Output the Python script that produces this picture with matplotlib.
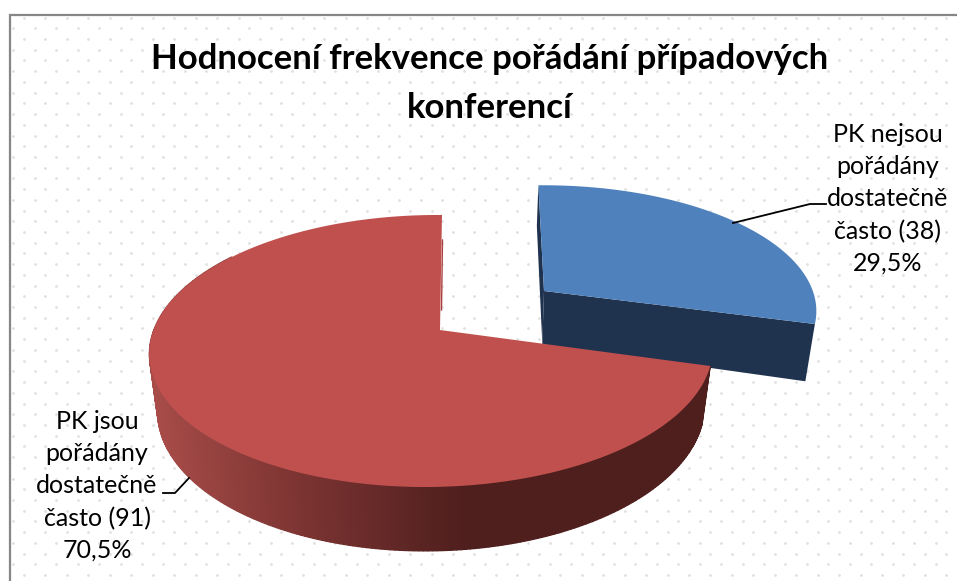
import matplotlib
matplotlib.use('Agg')
import matplotlib.pyplot as plt
from matplotlib.colors import LinearSegmentedColormap

import numpy as np

title_lines = ["Hodnocení frekvence pořádání případových", "konferencí"]
categories = ["PK nejsou\npořádány\ndostatečně\nčasto", "PK jsou\npořádány\ndostatečně\nčasto"]
values = [38, 91]

plt.rcParams['font.family'] = ['Lato', 'DejaVu Sans']

W, H = 957, 581
BLUE_TOP, BLUE_WALL = '#4F81BD', '#1F324E'
RED_TOP = '#C0504D'
red_wall = LinearSegmentedColormap.from_list('wall', ['#A84C49', '#7A3331', '#4F1F1E', '#4F1F1E'])


# tilted disc with perspective, theta is clockwise from 12 o'clock
def project(theta, cam):
    u, v = np.sin(theta), np.cos(theta)
    w = 1 + cam['p'] * v + cam['q'] * u
    x = cam['x'] + (cam['rx'] * u + cam['sk'] * v) / w
    y = cam['y'] + (-cam['ry'] * v + cam['sy'] * u) / w
    return x, y


def drop(x, y, cam):
    # the lower rim of the disc, verticals converge a bit going down
    return x - 0.029 * (x - cam['vx']), y + cam['h'] + cam['m'] * (y - 330)


blue_cam = dict(x=544, y=291, p=0.154, q=0.0, rx=268, ry=122, sk=-6.5, sy=-2.2, vx=486, h=58, m=0.12)
red_cam = dict(x=440, y=330, p=0.154, q=0.03, rx=278, ry=132.7, sk=2.3, sy=-1.2, vx=430, h=56, m=0.05)

split = 2 * np.pi * values[0] / sum(values)

fig = plt.figure(figsize=(W / 100, H / 100), dpi=100)
ax = fig.add_axes([0, 0, 1, 1])
ax.set_xlim(0, W)
ax.set_ylim(H, 0)
ax.axis('off')

# dotted background
for i, y0 in enumerate(np.arange(17.6, H, 10.72)):
    xs = np.arange(24 if i % 2 == 0 else 13.3, W, 21.45)
    ax.scatter(xs, np.full(len(xs), y0), s=4, color='#E0E0E0', linewidths=0, zorder=1)

# frame, only top and left are visible
ax.plot([10, 10, W], [H, 14.5, 14.5], color='#868686', lw=1.6, solid_joinstyle='miter', zorder=2)

# blue slice
t = np.linspace(0, split, 120)
bx, by = project(t, blue_cam)
bx2, by2 = drop(bx, by, blue_cam)
ax2, ay2 = drop(blue_cam['x'], blue_cam['y'], blue_cam)
ax.fill([bx[0], blue_cam['x'], ax2, bx2[0]], [by[0], blue_cam['y'], ay2, by2[0]], color=BLUE_WALL, lw=0, zorder=3)
ax.fill([blue_cam['x'], bx[-1], bx2[-1], ax2], [blue_cam['y'], by[-1], by2[-1], ay2], color=BLUE_WALL, lw=0, zorder=3)
ax.fill(np.r_[blue_cam['x'], bx], np.r_[blue_cam['y'], by], color=BLUE_TOP, lw=0, zorder=4)

# red slice, outer wall in strips for the shading
t = np.linspace(split, 2 * np.pi, 300)
rx, ry = project(t, red_cam)
rx2, ry2 = drop(rx, ry, red_cam)
for i in range(len(t) - 1):
    if t[i] > 1.7 * np.pi:
        break
    c = red_wall(np.clip((rx[i] - 150) / 470, 0, 1))
    ax.fill([rx[i], rx[i + 1], rx2[i + 1], rx2[i]], [ry[i], ry[i + 1], ry2[i + 1], ry2[i]], color=c, lw=1, zorder=5)
ax.fill(np.r_[red_cam['x'], rx], np.r_[red_cam['y'], ry], color=RED_TOP, lw=0, zorder=6)
# thin darker sliver of the inner wall at the cut
ax.plot([442.5, 441.5], [240, 310], color='#A9413F', lw=1, zorder=5)

# title
ax.text(490, 59, title_lines[0], ha='center', va='center', fontsize=25, fontweight='bold', color='black', zorder=8)
ax.text(490, 108, title_lines[1], ha='center', va='center', fontsize=25, fontweight='bold', color='black', zorder=8)

# labels with leader lines
total = sum(values)
pct = [f"{100 * v / total:.1f}".replace('.', ',') + "%" for v in values]
label_x = [888, 97]
label_y = [199, 486]
for i in range(2):
    txt = f"{categories[i]} ({values[i]})\n{pct[i]}"
    ax.text(label_x[i], label_y[i], txt, ha='center', va='center', fontsize=18, linespacing=1.48, color='black', zorder=8)

ax.plot([733, 810, 826], [223, 204, 204], color='black', lw=1.3, zorder=7)
ax.plot([163, 175, 189], [493, 493, 478], color='black', lw=1.3, zorder=7)

fig.savefig('out.png', dpi=100)
